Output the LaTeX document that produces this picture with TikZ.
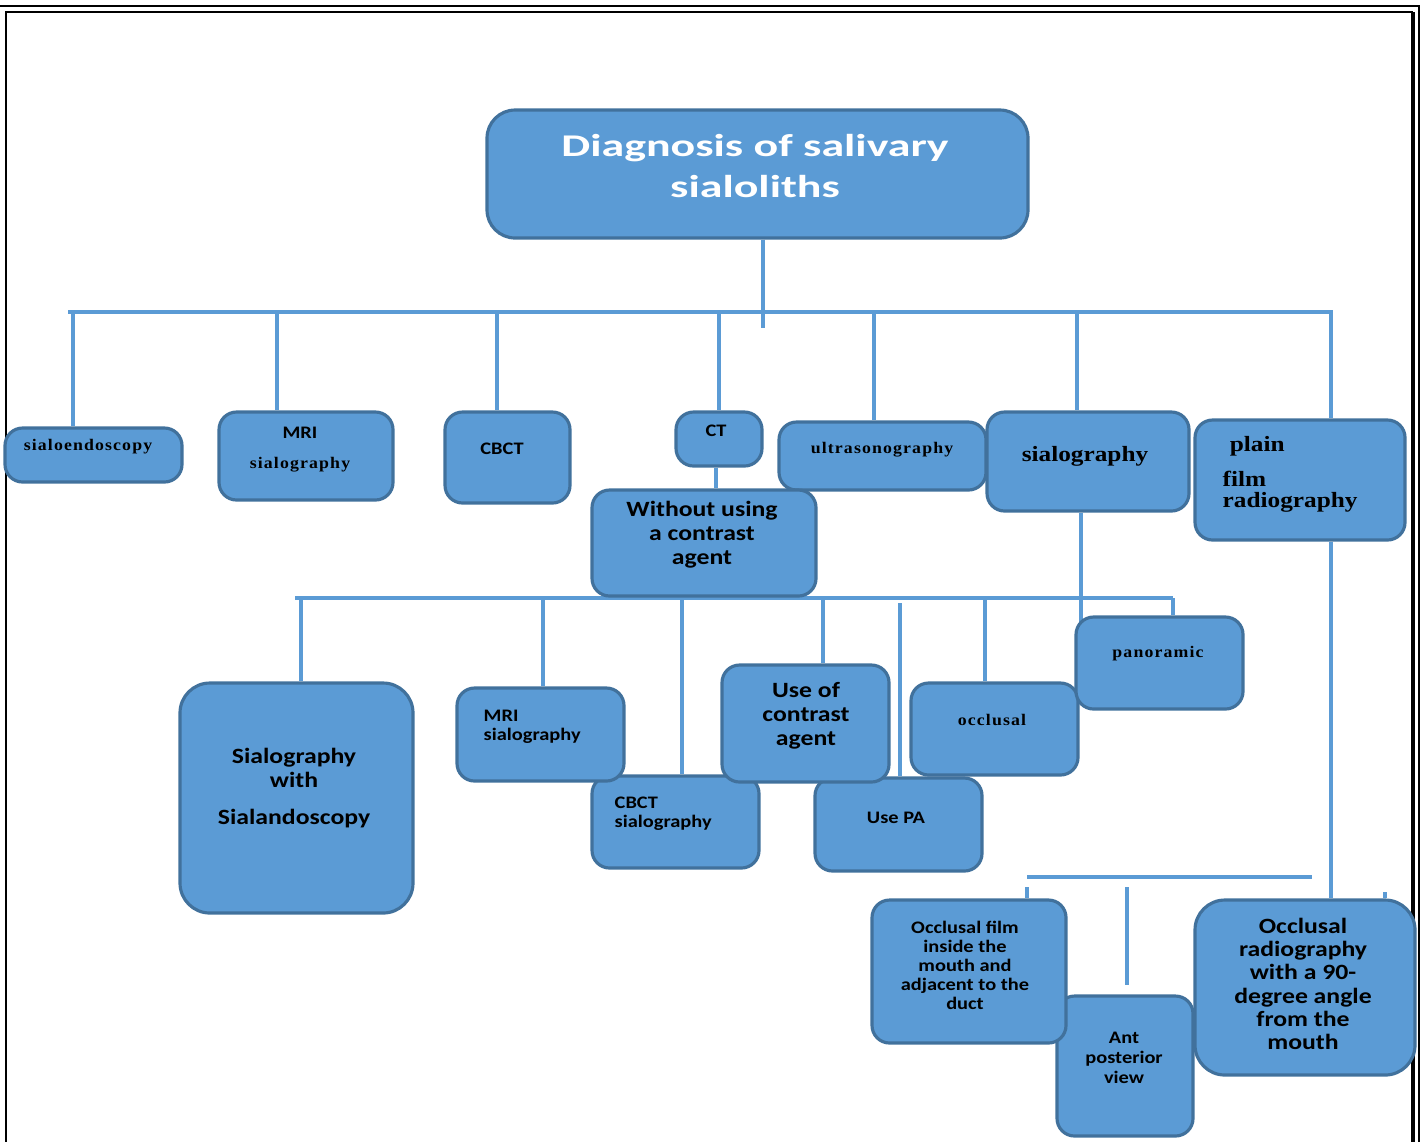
\documentclass[tikz,border=0pt]{standalone}
\usepackage{fontspec}
\newfontfamily\titlefont{Carlito}[FakeStretch=1.45]
\newfontfamily\calfont{Carlito}[FakeStretch=1.18]
\newfontfamily\calsmall{Carlito}[FakeStretch=1.16]
\newfontfamily\tmsfont{Liberation Serif}[FakeStretch=1.16]
\newfontfamily\tmsfontsp{Liberation Serif}[FakeStretch=1.1, LetterSpace=7]
\usetikzlibrary{fit, backgrounds}

\definecolor{boxblue}{HTML}{5B9BD5}
\definecolor{boxedge}{HTML}{41719C}
\definecolor{linkblue}{HTML}{5B9BD5}

\tikzset{
    bx/.style={draw=boxedge, fill=boxblue, line width=0.9pt, rounded corners=5pt, inner sep=0pt},
    bigbx/.style={bx, rounded corners=8.5pt},
    link/.style={draw=linkblue, line width=0.9pt},
    bigcal/.style={font=\calfont\bfseries\fontsize{6.2}{6.8}\selectfont, align=center, inner sep=0pt},
    smallcal/.style={font=\calsmall\bfseries\fontsize{5}{5.4}\selectfont, align=center, inner sep=0pt},
    bigtms/.style={font=\tmsfont\bfseries\fontsize{6.2}{6}\selectfont, align=left, inner sep=0pt},
    smalltms/.style={font=\tmsfontsp\bfseries\fontsize{4.6}{6}\selectfont, inner sep=0pt}
}

\begin{document}
\begin{tikzpicture}[x=0.01cm, y=-0.01cm]
    \useasboundingbox (0,0) rectangle (1422,1141);

    % Double page frame, open at the bottom
    \draw[line width=0.7pt] (0,6) -- (1419,6) -- (1419,1145);
    \draw[line width=0.6pt] (6,1145) -- (6,12) -- (1413,12);
    \draw[line width=1pt] (1413,12) -- (1413,1145);

    % Root
    \node[bigbx, rounded corners=8pt, fit={(487,110) (1028,238)}] (root) {};
    \node[font=\titlefont\bfseries\fontsize{9}{11.7}\selectfont, text=white, align=center, inner sep=0pt]
        (root-t) at (755,166) {Diagnosis of salivary\\sialoliths};

    % First row of methods
    \node[bx, fit={(5,428) (182,482)}] (sialo) {};
    \node[smalltms] (sialo-t) at (88,447) {sialoendoscopy};
    \node[bx, fit={(219,412) (393,500)}] (mri) {};
    \node[smallcal] (mri-ta) at (300,433) {MRI};
    \node[smalltms] (mri-tb) at (300,465) {sialography};
    \node[bx, fit={(445,412) (570,503)}] (cbct) {};
    \node[smallcal] (cbct-t) at (502,449) {CBCT};
    \node[bx, fit={(676,412) (762,466)}] (ct) {};
    \node[smallcal] (ct-t) at (716,431) {CT};
    \node[bx, fit={(779,422) (986,490)}] (us) {};
    \node[smalltms] (us-t) at (882,450) {ultrasonography};
    \node[bx, fit={(592,490) (816,596)}] (wo) {};
    \node[bigcal] (wo-t) at (702,535) {Without using\\a contrast\\agent};
    \node[bx, fit={(987,412) (1189,511)}] (sgr) {};
    \node[bigtms] (sgr-t) at (1085,456) {sialography};
    \node[bx, fit={(1195,420) (1405,540)}] (plain) {};
    \node[bigtms, anchor=west] (plain-t) at (1222,474)
        {\hspace*{2pt}plain\\[4pt]film\\radiography};

    % Second row
    \node[bigbx, fit={(180,683) (413,913)}] (sws) {};
    \node[bigcal] (sws-t) at (294,788) {Sialography\\with\\[3.7pt]Sialandoscopy};
    \node[bx, fit={(592,776) (759,868)}] (cbct2) {};
    \node[smallcal, align=left, anchor=west] (cbct2-t) at (614,814) {CBCT\\sialography};
    \node[bx, fit={(457,688) (624,781)}] (mri2) {};
    \node[smallcal, align=left, anchor=west] (mri2-t) at (483,727) {MRI\\sialography};
    \node[bx, fit={(815,778) (982,871)}] (upa) {};
    \node[smallcal] (upa-t) at (896,818) {Use PA};
    \node[bx, fit={(722,665) (889,782)}] (uca) {};
    \node[bigcal] (uca-t) at (806,716) {Use of\\contrast\\agent};
    \node[bx, fit={(911,683) (1078,775)}] (occ) {};
    \node[smalltms] (occ-t) at (992,720) {occlusal};
    \node[bx, fit={(1076,617) (1243,709)}] (pan) {};
    \node[smalltms] (pan-t) at (1158,654) {panoramic};

    % Third row
    \node[bx, fit={(1057,996) (1193,1136)}] (ant) {};
    \node[smallcal, font=\calsmall\bfseries\fontsize{5}{5.7}\selectfont] (ant-t) at (1124,1058) {Ant\\posterior\\view};
    \node[bx, fit={(872,900) (1066,1043)}] (ocf) {};
    \node[smallcal] (ocf-t) at (965,965) {Occlusal film\\inside the\\mouth and\\adjacent to the\\duct};
    \node[bigbx, fit={(1195,900) (1415,1075)}] (ocr) {};
    \node[bigcal, font=\calfont\bfseries\fontsize{6.2}{6.6}\selectfont] (ocr-t) at (1303,984)
        {Occlusal\\radiography\\with a 90-\\degree angle\\from the\\mouth};

    % Bus lines and drops
    \coordinate (bus1l) at (68,312);
    \coordinate (bus1r) at (1333,312);
    \coordinate (stem) at (763,328);
    \coordinate (bus2l) at (295,598);
    \coordinate (bus2r) at (1173,598);
    \coordinate (sgr-end) at (1081,625);
    \coordinate (bus3l) at (1027,877);
    \coordinate (bus3r) at (1312,877);
    \coordinate (plain-x) at (1331,0);
    \coordinate (mid3a) at (1127,887);
    \coordinate (mid3b) at (1127,985);

    \begin{scope}[on background layer]
        \draw[link] (bus1l) -- (bus1r);
        \draw[link] (stem |- root.south) -- (stem);
        \foreach \x/\nd in {73/sialo, 277/mri, 497/cbct, 719/ct, 874/us, 1077/sgr, 1331/plain}
            \draw[link] (\x,312) -- (\x,312 |- \nd.north);
        \draw[link] (ct-t |- ct.south) -- (ct-t |- wo.north);

        \draw[link] (bus2l) -- (bus2r);
        \draw[link] (sgr-end |- sgr.south) -- (sgr-end);
        \foreach \x/\nd in {301/sws, 543/mri2, 682/cbct2, 823/uca, 985/occ, 1173/pan}
            \draw[link] (\x,598) -- (\x,598 |- \nd.north);
        \draw[link] (900,603) -- (900,603 |- upa.north);

        \draw[link] (plain-x |- plain.south) -- (plain-x |- ocr.north);
        \draw[link] (bus3l) -- (bus3r);
        \draw[link] (1027,887) -- (1027,887 |- ocf.north);
        \draw[link] (mid3a) -- (mid3b);
        \draw[link] (1385,892) -- (1385,892 |- ocr.north);
    \end{scope}
\end{tikzpicture}
\end{document}
